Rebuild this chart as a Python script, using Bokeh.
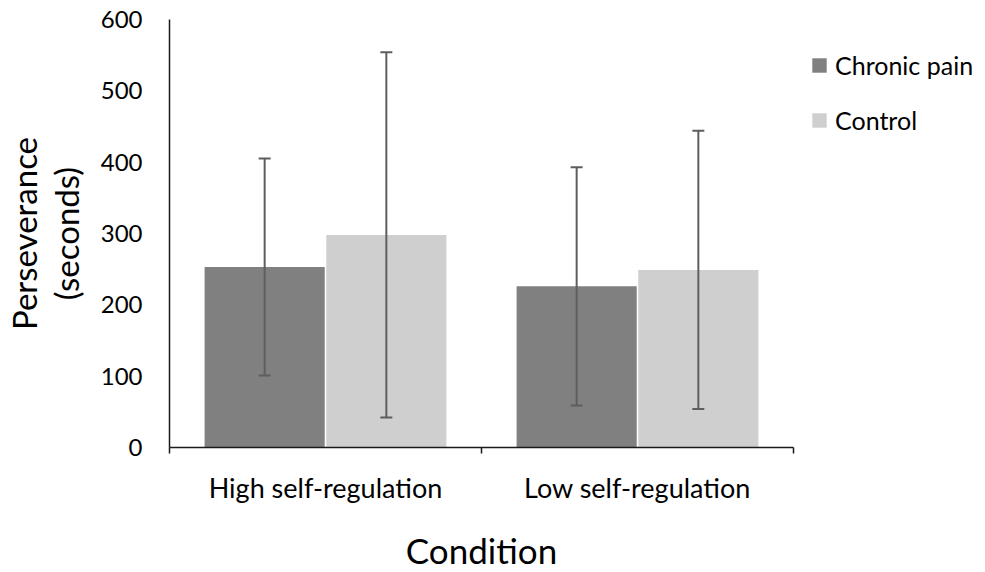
from bokeh.plotting import figure
from bokeh.models import (Range1d, FixedTicker, ColumnDataSource, Whisker, TeeHead,
                          Legend, LegendItem)
from bokeh.embed import file_html
from bokeh.resources import INLINE

categories = ["High self-regulation", "Low self-regulation"]
series_names = ["Chronic pain", "Control"]
chronic_mean = [253, 226]
control_mean = [298, 249]
chronic_sd = [152, 167]
control_sd = [256, 195]
y_ticks = [0, 100, 200, 300, 400, 500, 600]

FONT = "Lato"
colors = ["#808080", "#D0CFD0"]
err_color = "#5E5E5E"
offsets = [-0.195, 0.195]

p = figure(frame_width=624, frame_height=428, output_backend="svg", toolbar_location=None,
           x_range=Range1d(0, len(categories)), y_range=Range1d(0, 600),
           min_border_left=162, min_border_right=183, min_border_top=19, min_border_bottom=110)
p.outline_line_color = None
p.xgrid.visible = False
p.ygrid.visible = False

centers = [i + 0.5 for i in range(len(categories))]
renderers = []
for k, (means, sds) in enumerate([(chronic_mean, chronic_sd), (control_mean, control_sd)]):
    xs = [c + offsets[k] for c in centers]
    src = ColumnDataSource(dict(x=xs, top=means,
                                lower=[m - s for m, s in zip(means, sds)],
                                upper=[m + s for m, s in zip(means, sds)]))
    r = p.vbar(x="x", top="top", bottom=0, width=0.385, source=src,
               fill_color=colors[k], line_color=None)
    renderers.append(r)
    w = Whisker(base="x", lower="lower", upper="upper", source=src, level="overlay",
                line_color=err_color, line_width=2,
                upper_head=TeeHead(size=12, line_color=err_color, line_width=2),
                lower_head=TeeHead(size=12, line_color=err_color, line_width=2))
    p.add_layout(w)

# y axis
p.yaxis.ticker = FixedTicker(ticks=y_ticks)
p.yaxis.major_tick_line_color = None
p.yaxis.minor_tick_line_color = None
p.yaxis.major_tick_out = 0
p.yaxis.major_tick_in = 0
p.yaxis.major_label_standoff = 27
p.yaxis.major_label_text_font = FONT
p.yaxis.major_label_text_font_size = "24px"
p.yaxis.major_label_text_color = "#000000"
p.yaxis.axis_line_color = "#1A1A1A"
p.yaxis.axis_line_width = 1.5
p.yaxis.axis_label = "Perseverance\n(seconds)"
p.yaxis.axis_label_text_font = FONT
p.yaxis.axis_label_text_font_size = "33px"
p.yaxis.axis_label_text_line_height = 1.05
p.yaxis.axis_label_text_font_style = "normal"
p.yaxis.axis_label_text_color = "#000000"
p.yaxis.axis_label_standoff = 12

# x axis
p.xaxis.ticker = FixedTicker(ticks=centers, minor_ticks=list(range(len(categories) + 1)))
p.xaxis.major_label_overrides = {c: cat for c, cat in zip(centers, categories)}
p.xaxis.major_tick_line_color = None
p.xaxis.major_tick_out = 0
p.xaxis.major_tick_in = 0
p.xaxis.minor_tick_line_color = "#1A1A1A"
p.xaxis.minor_tick_line_width = 1.5
p.xaxis.minor_tick_out = 6
p.xaxis.minor_tick_in = 0
p.xaxis.major_label_standoff = 17
p.xaxis.major_label_text_font = FONT
p.xaxis.major_label_text_font_size = "27px"
p.xaxis.major_label_text_color = "#000000"
p.xaxis.axis_line_color = "#1A1A1A"
p.xaxis.axis_line_width = 1.5
p.xaxis.axis_label = "Condition"
p.xaxis.axis_label_text_font = FONT
p.xaxis.axis_label_text_font_size = "35px"
p.xaxis.axis_label_text_font_style = "normal"
p.xaxis.axis_label_text_color = "#000000"
p.xaxis.axis_label_standoff = 22

legend = Legend(items=[LegendItem(label=n, renderers=[r]) for n, r in zip(series_names, renderers)],
                location=(17, 312), glyph_width=18, glyph_height=18, label_standoff=7,
                label_text_font=FONT, label_text_font_size="25px", label_text_color="#000000",
                spacing=25, padding=0, margin=0, border_line_color=None,
                background_fill_alpha=0)
p.add_layout(legend, "right")

open("out.html", "w").write(file_html(p, INLINE))
